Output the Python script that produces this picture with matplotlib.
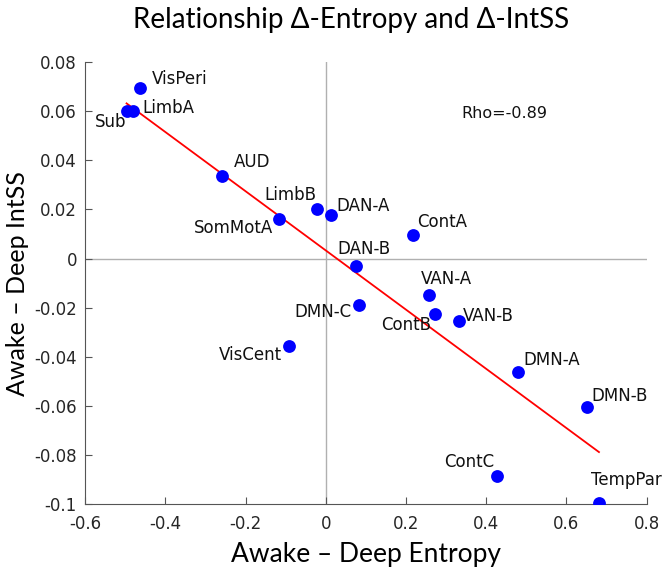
import numpy as np
import matplotlib.pyplot as plt

plt.rcParams['font.family'] = ['DejaVu Sans']

# network names and values
networks = ['VisPeri', 'LimbA', 'Sub', 'AUD', 'LimbB', 'SomMotA', 'DAN-A', 'ContA',
            'DAN-B', 'VAN-A', 'DMN-C', 'ContB', 'VAN-B', 'VisCent', 'DMN-A', 'DMN-B',
            'ContC', 'TempPar']
d_entropy = [-0.464, -0.481, -0.497, -0.260, -0.021, -0.117, 0.012, 0.218,
             0.076, 0.258, 0.082, 0.272, 0.331, -0.093, 0.478, 0.651,
             0.427, 0.681]
d_intss = [0.0693, 0.0600, 0.0600, 0.0335, 0.0201, 0.0162, 0.0176, 0.0097,
           -0.0029, -0.0147, -0.0191, -0.0227, -0.0256, -0.0355, -0.0460, -0.0603,
           -0.0884, -0.0996]
rho_text = 'Rho=-0.89'

# label offsets (points) and alignment
offsets = {
    'VisPeri': (9, 7, 'left'), 'LimbA': (7, 2, 'left'), 'Sub': (0, -8, 'right'),
    'AUD': (9, 10, 'left'), 'LimbB': (-1, 10, 'right'), 'SomMotA': (-4, -7, 'right'),
    'DAN-A': (4, 7, 'left'), 'ContA': (3, 9, 'left'), 'DAN-B': (-14, 12, 'left'),
    'VAN-A': (-6, 11, 'left'), 'DMN-C': (-5, -5, 'right'), 'ContB': (-3, -8, 'right'),
    'VAN-B': (3, 4, 'left'), 'VisCent': (-5, -7, 'right'), 'DMN-A': (4, 8, 'left'),
    'DMN-B': (3, 8, 'left'), 'ContC': (-2, 10, 'right'), 'TempPar': (-6, 17, 'left'),
}

fig = plt.figure(figsize=(6.66, 5.69), dpi=100)
ax = fig.add_axes([0.128, 0.114, 0.843, 0.777])

ax.axvline(0, color='#b0b0b0', lw=1, zorder=1)
ax.axhline(0, color='#b0b0b0', lw=1, zorder=1)

x = np.array(d_entropy)
y = np.array(d_intss)
slope, icpt = np.polyfit(x, y, 1)
xl = np.array([x.min(), x.max()])
ax.plot(xl, slope * xl + icpt, color='#ff0000', lw=1.3, zorder=2)

ax.scatter(x, y, s=85, color='#0000ff', zorder=3, linewidths=0)

for name, xi, yi in zip(networks, d_entropy, d_intss):
    dx, dy, ha = offsets[name]
    ax.annotate(name, (xi, yi), xytext=(dx, dy), textcoords='offset points',
                ha=ha, va='center', fontsize=12, color='#111111')

ax.text(0.337, 0.0592, rho_text, fontsize=11.5, va='center', ha='left', color='#111111')

ax.set_xlim(-0.6, 0.8)
ax.set_ylim(-0.1, 0.08)
ax.set_xticks(np.arange(-0.6, 0.81, 0.2))
ax.set_xticklabels(['-0.6', '-0.4', '-0.2', '0', '0.2', '0.4', '0.6', '0.8'])
ax.set_yticks(np.arange(-0.1, 0.081, 0.02))
ax.set_yticklabels(['-0.1', '-0.08', '-0.06', '-0.04', '-0.02', '0',
                    '0.02', '0.04', '0.06', '0.08'])
ax.tick_params(direction='in', length=5, labelsize=12, color='#555555',
               labelcolor='#262626')
ax.tick_params(axis='x', pad=8)
ax.tick_params(axis='y', pad=6)
for s in ['top', 'right']:
    ax.spines[s].set_visible(False)
for s in ['left', 'bottom']:
    ax.spines[s].set_color('#555555')

ax.set_xlabel('Awake – Deep Entropy', fontsize=19, labelpad=6, family=['Lato'])
ax.set_ylabel('Awake – Deep IntSS', fontsize=18, labelpad=4, family=['Lato'])
fig.text(0.527, 0.965, 'Relationship Δ-Entropy and Δ-IntSS', fontsize=20,
         ha='center', va='center', family=['Lato', 'DejaVu Sans'])

fig.savefig('out.png', dpi=100)
